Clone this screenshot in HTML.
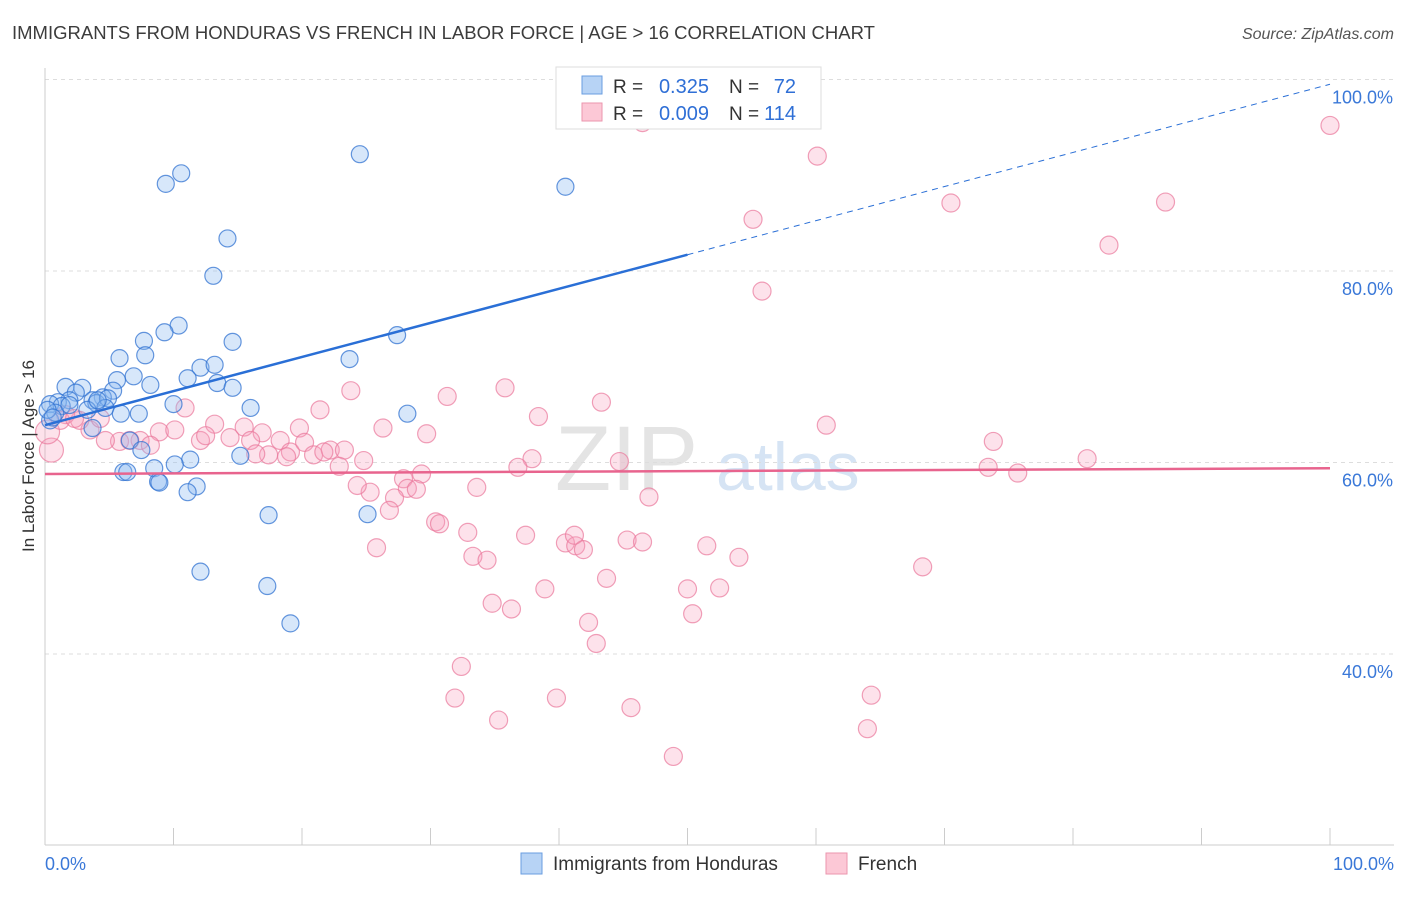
<!DOCTYPE html>
<html><head><meta charset="utf-8"><style>
body{margin:0;background:#fff;font-family:"Liberation Sans",sans-serif;}
svg text{font-family:"Liberation Sans",sans-serif;}
</style></head><body>
<svg id="chart" width="1406" height="892" viewBox="0 0 1406 892" xmlns="http://www.w3.org/2000/svg">
<text x="12" y="39" font-size="18.5" fill="#3c3c3c">IMMIGRANTS FROM HONDURAS VS FRENCH IN LABOR FORCE | AGE &gt; 16 CORRELATION CHART</text>
<text x="1394" y="39" font-size="16" fill="#555" font-style="italic" text-anchor="end">Source: ZipAtlas.com</text>
<text x="555" y="490" font-size="92" fill="#e4e4e4" font-family="Liberation Serif">ZIP</text>
<text x="716" y="490" font-size="68" fill="#d6e4f4">atlas</text>
<g id="grid"></g>
<g id="axes"></g>
<g id="pink"></g>
<g id="blue"></g>
<g id="trends"></g>
<text transform="translate(34,456) rotate(-90)" font-size="17" fill="#333" text-anchor="middle">In Labor Force | Age &gt; 16</text>
<text x="45" y="870" font-size="18" fill="#3a78d8">0.0%</text>
<text x="1394" y="870" font-size="18" fill="#3a78d8" text-anchor="end">100.0%</text>
<g>
<rect x="556" y="67" width="265" height="62" fill="#fff" stroke="#ddd"/>
<rect x="582" y="76" width="20" height="18" fill="#b7d3f5" stroke="#6a9ee0"/>
<rect x="582" y="103" width="20" height="18" fill="#fcc8d6" stroke="#eb96ae"/>
<text x="613" y="93" font-size="19" fill="#333">R =</text>
<text x="709" y="93" font-size="20" fill="#2f6fd6" text-anchor="end">0.325</text>
<text x="729" y="93" font-size="19" fill="#333">N =</text>
<text x="796" y="93" font-size="20" fill="#2f6fd6" text-anchor="end">72</text>
<text x="613" y="120" font-size="19" fill="#333">R =</text>
<text x="709" y="120" font-size="20" fill="#2f6fd6" text-anchor="end">0.009</text>
<text x="729" y="120" font-size="19" fill="#333">N =</text>
<text x="796" y="120" font-size="20" fill="#2f6fd6" text-anchor="end">114</text>
</g>
<g>
<rect x="521" y="853" width="21" height="21" fill="#b7d3f5" stroke="#6a9ee0"/>
<text x="553" y="870" font-size="19" fill="#333">Immigrants from Honduras</text>
<rect x="826" y="853" width="21" height="21" fill="#fcc8d6" stroke="#eb96ae"/>
<text x="858" y="870" font-size="19" fill="#333">French</text>
</g>
</svg>
<script>
const blueX=[41.5,24.5,40.5,10.6,9.4,14.2,13.1,10.4,9.3,7.7,14.6,27.4,23.7,5.8,7.8,12.1,13.2,6.9,5.6,11.1,8.2,13.4,14.6,1.6,2.9,5.3,4.5,3.7,2.4,1.9,1.0,0.4,1.3,4.0,4.9,4.7,3.3,5.9,7.3,10.0,16.0,28.2,0.4,0.8,3.7,6.6,7.5,15.2,11.3,10.1,8.5,6.1,6.4,8.8,8.9,11.8,11.1,17.4,25.1,12.1,17.3,19.1,0.2,0.6,1.9,4.1];
const blueY=[99.9,92.2,88.8,90.2,89.1,83.4,79.5,74.3,73.6,72.7,72.6,73.3,70.8,70.9,71.2,69.9,70.2,69.0,68.6,68.8,68.1,68.3,67.8,67.9,67.8,67.5,66.8,66.5,67.3,66.5,66.3,66.1,65.9,66.2,66.7,65.7,65.5,65.1,65.1,66.1,65.7,65.1,64.4,65.2,63.6,62.3,61.3,60.7,60.3,59.8,59.4,59.0,59.0,58.0,57.9,57.5,56.9,54.5,54.6,48.6,47.1,43.2,65.5,64.7,66.0,66.5];
const pinkX=[46.5,100,60.1,55.1,70.5,87.2,82.8,55.8,23.8,35.8,31.3,43.3,21.4,38.4,60.8,73.8,29.7,26.3,19.8,10.9,13.2,15.5,16.9,18.3,16.0,14.4,12.1,8.9,7.4,5.8,4.7,3.5,2.7,1.6,8.2,10.1,12.5,17.4,19.1,20.2,20.9,22.2,23.3,21.7,24.8,22.9,18.8,16.4,37.9,36.8,44.7,73.4,75.7,81.1,29.3,27.9,28.2,28.9,27.2,25.3,24.3,33.6,26.8,47.0,30.4,30.7,32.9,37.4,40.5,41.3,41.2,41.9,45.3,46.5,51.5,54.0,33.3,34.4,25.8,43.7,68.3,38.9,50.0,52.5,34.8,36.3,50.4,42.3,42.9,32.4,31.9,39.8,45.6,35.3,64.3,64.0,48.9,0.5,0.2,1.2,2.3,4.3,6.6];
const pinkY=[95.5,95.2,92.0,85.4,87.1,87.2,82.7,77.9,67.5,67.8,66.9,66.3,65.5,64.8,63.9,62.2,63.0,63.6,63.6,65.7,64.0,63.7,63.1,62.3,62.3,62.6,62.3,63.2,62.3,62.2,62.3,63.4,64.4,65.0,61.8,63.4,62.8,60.8,61.1,62.1,60.8,61.3,61.3,61.1,60.2,59.6,60.6,60.9,60.4,59.5,60.1,59.5,58.9,60.4,58.8,58.3,57.3,57.2,56.3,56.9,57.6,57.4,55.0,56.4,53.8,53.6,52.7,52.4,51.6,51.3,52.4,50.9,51.9,51.7,51.3,50.1,50.2,49.8,51.1,47.9,49.1,46.8,46.8,46.9,45.3,44.7,44.2,43.3,41.1,38.7,35.4,35.4,34.4,33.1,35.7,32.2,29.3,61.3,63.2,64.4,64.6,64.6,62.3];
const yTicks=[40,60,80,100];
const yTickLabels=["40.0%","60.0%","80.0%","100.0%"];
const xTicks=[0,10,20,30,40,50,60,70,80,90,100];
const blueTrend=[63.9,99.5];
const blueSolidEnd=50;
const pinkTrend=[58.8,59.4];
const NS="http://www.w3.org/2000/svg";
const sx=v=>45+v*12.85;
const sy=v=>1037-v*9.575;
function mk(tag,attrs,parent){const e=document.createElementNS(NS,tag);for(const k in attrs)e.setAttribute(k,attrs[k]);parent.appendChild(e);return e;}
const grid=document.getElementById('grid'),axes=document.getElementById('axes');
yTicks.forEach((t,i)=>{
 const l=mk('line',{x1:45,x2:1394,y1:sy(t),y2:sy(t),stroke:'#ddd','stroke-dasharray':'4 4'},grid);
 
 
 const tx=mk('text',{x:1393,y:sy(t)+24,'font-size':18,fill:'#3a78d8','text-anchor':'end'},grid);
 tx.textContent=yTickLabels[i];
 
 
});
const ax=mk('line',{x1:45,x2:45,y1:68,y2:845,stroke:'#ccc'},axes);


const bx=mk('line',{x1:45,x2:1394,y1:845,y2:845,stroke:'#ccc'},axes);


xTicks.forEach(t=>{
 const l=mk('line',{x1:sx(t),x2:sx(t),y1:828,y2:845,stroke:'#ccc'},axes);
 
 
});
const pg=document.getElementById('pink');
pinkX.forEach((x,i)=>{
 const c=mk('circle',{cx:sx(x),cy:sy(pinkY[i]),r:(i>=97&&i<=98)?12:9,fill:'rgba(247,160,188,0.3)',stroke:'rgba(234,120,155,0.7)','stroke-width':1.2},pg);
 
 
});
const bg=document.getElementById('blue');
blueX.forEach((x,i)=>{
 const c=mk('circle',{cx:sx(x),cy:sy(blueY[i]),r:8.5,fill:'rgba(140,185,240,0.35)',stroke:'rgba(50,115,210,0.75)','stroke-width':1.2},bg);
 
 
});
const tg=document.getElementById('trends');
const by=x=>blueTrend[0]+(blueTrend[1]-blueTrend[0])*x/100;
const t1=mk('line',{x1:sx(0),y1:sy(by(0)),x2:sx(blueSolidEnd),y2:sy(by(blueSolidEnd)),stroke:'#2a6fd6','stroke-width':2.5},tg);


const t2=mk('line',{x1:sx(blueSolidEnd),y1:sy(by(blueSolidEnd)),x2:sx(100),y2:sy(by(100)),stroke:'#2a6fd6','stroke-width':1,'stroke-dasharray':'6 5'},tg);


const t3=mk('line',{x1:sx(0),y1:sy(pinkTrend[0]),x2:sx(100),y2:sy(pinkTrend[1]),stroke:'#e8648e','stroke-width':2.5},tg);


</script>
</body></html>
